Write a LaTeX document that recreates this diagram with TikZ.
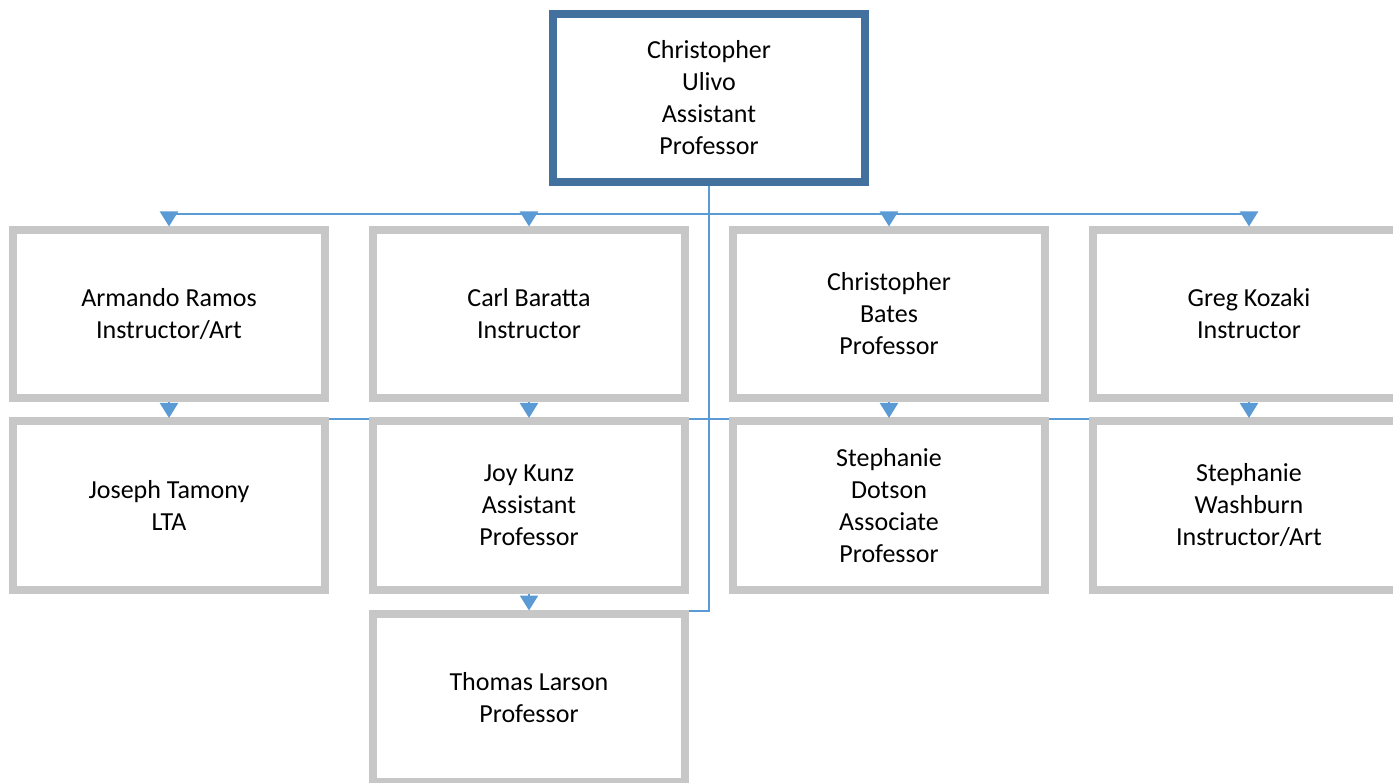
\documentclass[tikz,border=0pt]{standalone}
\usepackage{fontspec}
\setmainfont{Carlito}
\usetikzlibrary{arrows.meta}
\pgfdeclarelayer{background}
\pgfsetlayers{background,main}
\definecolor{topblue}{RGB}{65,113,156}
\definecolor{boxgray}{RGB}{199,199,199}
\definecolor{linkblue}{RGB}{91,155,213}
\begin{document}
\begin{tikzpicture}[x=1pt,y=-1pt,
  card/.style={draw=boxgray,line width=8pt,fill=white,minimum width=312pt,minimum height=168pt,
    inner sep=0pt,align=center,font=\fontsize{26}{32}\selectfont,text=black},
  headcard/.style={card,draw=topblue},
  link/.style={draw=linkblue,line width=2.2pt},
  arrowlink/.style={link,-{Triangle[width=18pt,length=15pt]},shorten >=-0.5pt}]
\useasboundingbox (0,0) rectangle (1393,783);
\clip (0,0) rectangle (1393,783);
\node[headcard] (top) at (709,98) {Christopher\\Ulivo\\Assistant\\Professor};
\node[card] (a1) at (169,314) {Armando Ramos\\Instructor/Art};
\node[card] (a2) at (529,314) {Carl Baratta\\Instructor};
\node[card] (a3) at (889,314) {Christopher\\Bates\\Professor};
\node[card] (a4) at (1249,314) {Greg Kozaki\\Instructor};
\node[card] (b1) at (169,505.5) {Joseph Tamony\\LTA};
\node[card] (b2) at (529,505.5) {Joy Kunz\\Assistant\\Professor};
\node[card] (b3) at (889,505.5) {Stephanie\\Dotson\\Associate\\Professor};
\node[card] (b4) at (1249,505.5) {Stephanie\\Washburn\\Instructor/Art};
\node[card] (c) at (529,698) {Thomas Larson\\Professor};
\begin{pgfonlayer}{background}
\draw[link] ([yshift=-1.5pt]b1.north) -- ([yshift=-1.5pt]b4.north);
\draw[link] (top.south) |- ([yshift=-1pt]c.north east);
\end{pgfonlayer}
\foreach \n in {a1,a2,a3,a4}{
  \draw[arrowlink] (top.south) -- ++(0,28) -| (\n.north);
}
\foreach \u/\d in {a1/b1,a2/b2,a3/b3,a4/b4,b2/c}{
  \draw[arrowlink] (\u.south) -- (\d.north);
}
\end{tikzpicture}
\end{document}
